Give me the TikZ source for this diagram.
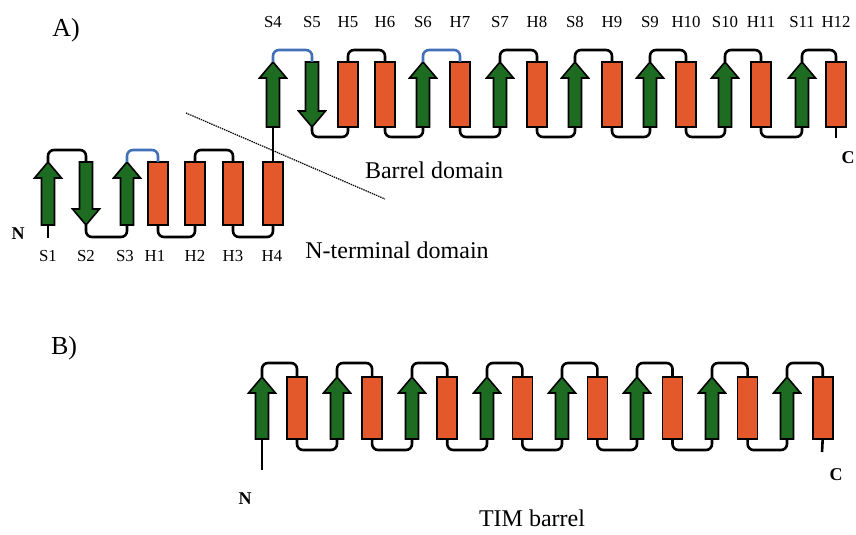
\documentclass[tikz,border=0pt]{standalone}
\usepackage{fontspec}
\setmainfont{Liberation Serif}
\usetikzlibrary{calc}
\definecolor{sgreen}{HTML}{1E6B22}
\definecolor{hred}{HTML}{E3592B}
\definecolor{lblue}{HTML}{4170B8}
\tikzset{
  strandshape/.style={fill=sgreen,draw=black,line width=1.6pt,line join=miter},
  helixshape/.style={fill=hred,draw=black,line width=1.6pt},
  lp/.style={draw=black,line width=2.6pt,rounded corners=6pt},
  bluelp/.style={lp,draw=lblue},
  lbl/.style={font=\fontsize{16.8}{16.8}\selectfont,inner sep=0pt},
  term/.style={font=\fontsize{18}{18}\selectfont\bfseries,inner sep=0pt},
  panel/.style={font=\fontsize{26}{26}\selectfont,inner sep=0pt},
  dom/.style={font=\fontsize{24}{24}\selectfont,inner sep=0pt},
}
% name, x, ytop, ybot
\newcommand{\strandU}[4]{%
  \draw[strandshape] (#2-6.5,#4) -- (#2-6.5,#3+16) -- (#2-13.5,#3+16) -- (#2,#3)
     -- (#2+13.5,#3+16) -- (#2+6.5,#3+16) -- (#2+6.5,#4) -- cycle;
  \coordinate (#1-t) at (#2,#3); \coordinate (#1-b) at (#2,#4);}
\newcommand{\strandD}[4]{%
  \draw[strandshape] (#2-6.5,#3) -- (#2-6.5,#4-16) -- (#2-13.5,#4-16) -- (#2,#4)
     -- (#2+13.5,#4-16) -- (#2+6.5,#4-16) -- (#2+6.5,#3) -- cycle;
  \coordinate (#1-t) at (#2,#3); \coordinate (#1-b) at (#2,#4);}
\newcommand{\helixR}[4]{%
  \draw[helixshape] (#2-10,#3) rectangle (#2+10,#4);
  \coordinate (#1-t) at (#2,#3); \coordinate (#1-b) at (#2,#4);}
\newcommand{\lnk}[4][lp]{\draw[#1] (#2) -- (#2 |- #4) -- (#3 |- #4) -- (#3);}
\begin{document}
\begin{tikzpicture}[x=1pt,y=-1pt]
\useasboundingbox (0,0) rectangle (856,535);
% loop levels
\coordinate (AT1) at (0,150); \coordinate (AB1) at (0,237);
\coordinate (AT2) at (0,50);  \coordinate (AB2) at (0,137);
\coordinate (BT) at (0,363);  \coordinate (BB) at (0,450);

% ---------- Panel A: N-terminal domain ----------
\strandU{S1}{48}{162}{225}
\strandD{S2}{86}{162}{225}
\strandU{S3}{127}{162}{225}
\helixR{H1}{158}{162}{225}
\helixR{H2}{195}{162}{225}
\helixR{H3}{233}{162}{225}
\helixR{H4}{273}{162}{225}
% ---------- Panel A: barrel domain ----------
\strandU{S4}{273}{62}{127}
\strandD{S5}{312}{62}{127}
\helixR{H5}{348}{62}{127}
\helixR{H6}{385}{62}{127}
\strandU{S6}{423}{62}{127}
\helixR{H7}{460}{62}{127}
\strandU{S7}{500}{62}{127}
\helixR{H8}{537}{62}{127}
\strandU{S8}{575}{62}{127}
\helixR{H9}{612}{62}{127}
\strandU{S9}{650}{62}{127}
\helixR{H10}{686}{62}{127}
\strandU{S10}{725}{62}{127}
\helixR{H11}{761}{62}{127}
\strandU{S11}{802}{62}{127}
\helixR{H12}{836}{62}{127}

\coordinate (NA) at (48,238);
\coordinate (CA) at (836,138);
\draw[lp] (S1-b) -- (NA);
\lnk{S1-t}{S2-t}{AT1}
\lnk{S2-b}{S3-b}{AB1}
\lnk[bluelp]{S3-t}{H1-t}{AT1}
\lnk{H1-b}{H2-b}{AB1}
\lnk{H2-t}{H3-t}{AT1}
\lnk{H3-b}{H4-b}{AB1}
\draw[lp] (H4-t) -- (S4-b);
\lnk[bluelp]{S4-t}{S5-t}{AT2}
\lnk{S5-b}{H5-b}{AB2}
\lnk{H5-t}{H6-t}{AT2}
\lnk{H6-b}{S6-b}{AB2}
\lnk[bluelp]{S6-t}{H7-t}{AT2}
\lnk{H7-b}{S7-b}{AB2}
\lnk{S7-t}{H8-t}{AT2}
\lnk{H8-b}{S8-b}{AB2}
\lnk{S8-t}{H9-t}{AT2}
\lnk{H9-b}{S9-b}{AB2}
\lnk{S9-t}{H10-t}{AT2}
\lnk{H10-b}{S10-b}{AB2}
\lnk{S10-t}{H11-t}{AT2}
\lnk{H11-b}{S11-b}{AB2}
\lnk{S11-t}{H12-t}{AT2}
\draw[lp] (H12-b) -- (CA);

% labels panel A
\foreach \n/\x in {S1/48,S2/86,S3/125,H1/155,H2/195,H3/233,H4/272}
  \node[lbl] (l\n) at (\x,256) {\n};
\foreach \n/\x in {S4/273,S5/312,H5/348,H6/385,S6/423,H7/460,S7/500,H8/537,S8/575,H9/612,S9/650,H10/686,S10/725,H11/761,S11/802,H12/836}
  \node[lbl] (l\n) at (\x,22) {\n};
\node[term] (Nlab) at (18,234) {N};
\node[term] (Clab) at (848,158) {C};
\node[panel] (Alab) at (66,30) {A)};
\node[dom] (barreldom) at (434,170) {Barrel domain};
\node[dom] (ntermdom) at (397,250) {N-terminal domain};
\coordinate (d1) at (186,113);
\coordinate (d2) at (385,199);
\draw[line width=1.2pt,dash pattern=on 1.4pt off 0.9pt] (d1) -- (d2);

% ---------- Panel B: TIM barrel ----------
\foreach \k in {1,...,8}{
  \pgfmathsetmacro{\sx}{262+75*(\k-1)}
  \pgfmathsetmacro{\hx}{297+75.1*(\k-1)}
  \strandU{bS\k}{\sx}{377}{439}
  \helixR{bH\k}{\hx}{377}{439}
}
\coordinate (NB) at (262,470);
\coordinate (CB) at (822,452);
\draw[lp] (bS1-b) -- (NB);
\foreach \k in {1,...,8}{ \lnk{bS\k-t}{bH\k-t}{BT} }
\foreach \k/\j in {1/2,2/3,3/4,4/5,5/6,6/7,7/8}{ \lnk{bH\k-b}{bS\j-b}{BB} }
\draw[lp] (bH8-b) -- (CB);
\node[term] (NBlab) at (245,499) {N};
\node[term] (CBlab) at (836,475) {C};
\node[panel] (Blab) at (64,348) {B)};
\node[dom] (timlab) at (532,518) {TIM barrel};
\end{tikzpicture}
\end{document}
